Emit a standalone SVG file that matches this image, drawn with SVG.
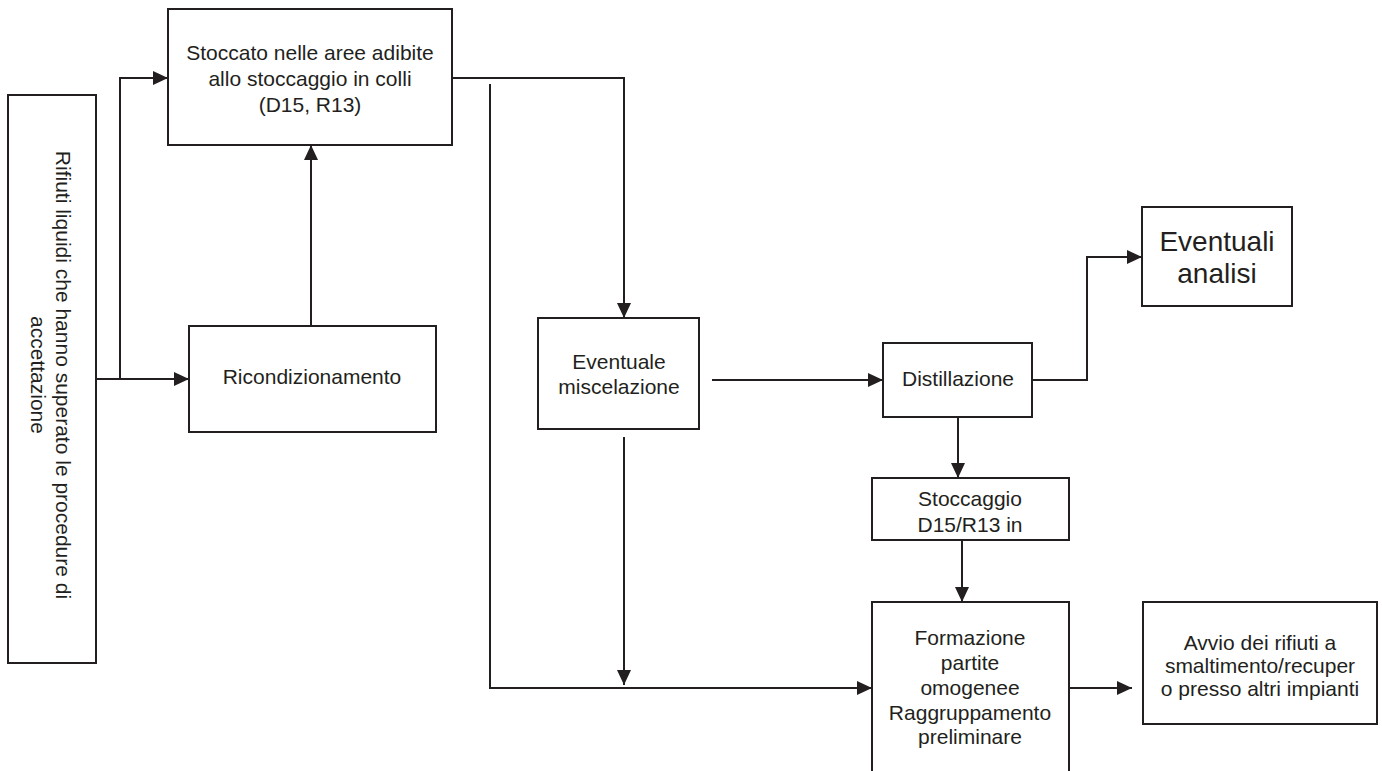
<svg xmlns="http://www.w3.org/2000/svg" width="1382" height="771" viewBox="0 0 1382 771">
  <style>
    .box { fill: #ffffff; stroke: #231f20; stroke-width: 2; }
    .lbl { font-family: "Liberation Sans", Arial, sans-serif; font-size: 21px; fill: #231f20; text-anchor: middle; }
    .big { font-size: 28px; }
    .wire { fill: none; stroke: #231f20; stroke-width: 2; }
    .arrow { marker-end: url(#head); }
  </style>
  <defs>
    <marker id="head" markerUnits="userSpaceOnUse" markerWidth="16" markerHeight="14" refX="15" refY="7" orient="auto">
      <path d="M0,0 L15,7 L0,14 Z" fill="#231f20"/>
    </marker>
  </defs>
  <rect width="1382" height="771" fill="#ffffff"/>

  <!-- connectors -->
  <g id="connectors">
    <!-- incoming waste to reconditioning and to storage -->
    <path class="wire arrow" d="M96,379 H189"/>
    <path class="wire arrow" d="M120,379 V78 H168"/>
    <!-- reconditioning back up to storage -->
    <path class="wire arrow" d="M311,326 V145"/>
    <!-- storage to mixing -->
    <path class="wire arrow" d="M452,78 H624 V318"/>
    <!-- direct path to batch formation -->
    <path class="wire arrow" d="M490,84 V688 H872"/>
    <!-- mixing down to batch formation -->
    <path class="wire arrow" d="M624,437 V685"/>
    <!-- mixing to distillation -->
    <path class="wire arrow" d="M712,380 H883"/>
    <!-- distillation to analysis -->
    <path class="wire arrow" d="M1032,380 H1087 V257 H1142"/>
    <!-- distillation to storage D15/R13 -->
    <path class="wire arrow" d="M958,417 V478"/>
    <!-- storage to batch formation -->
    <path class="wire arrow" d="M962,540 V602"/>
    <!-- batch formation to dispatch -->
    <path class="wire arrow" d="M1069,688 H1132"/>
  </g>

  <!-- nodes -->
  <g id="rifiuti">
    <rect class="box" x="8" y="95" width="88" height="568"/>
    <text class="lbl" transform="translate(56 375) rotate(90)">Rifiuti liquidi che hanno superato le procedure di</text>
    <text class="lbl" transform="translate(31 375) rotate(90)">accettazione</text>
  </g>

  <g id="stoccato">
    <rect class="box" x="168" y="9" width="284" height="136"/>
    <text class="lbl" x="310" y="60">Stoccato nelle aree adibite</text>
    <text class="lbl" x="310" y="86">allo stoccaggio in colli</text>
    <text class="lbl" x="310" y="112">(D15, R13)</text>
  </g>

  <g id="ricondizionamento">
    <rect class="box" x="189" y="326" width="247" height="106"/>
    <text class="lbl" x="312" y="384">Ricondizionamento</text>
  </g>

  <g id="miscelazione">
    <rect class="box" x="538" y="318" width="161" height="111"/>
    <text class="lbl" x="619" y="369">Eventuale</text>
    <text class="lbl" x="619" y="394">miscelazione</text>
  </g>

  <g id="distillazione">
    <rect class="box" x="883" y="343" width="149" height="74"/>
    <text class="lbl" x="958" y="386">Distillazione</text>
  </g>

  <g id="analisi">
    <rect class="box" x="1142" y="207" width="150" height="99"/>
    <text class="lbl big" x="1217" y="251">Eventuali</text>
    <text class="lbl big" x="1217" y="283">analisi</text>
  </g>

  <g id="stoccaggio">
    <rect class="box" x="872" y="478" width="197" height="62"/>
    <text class="lbl" x="970" y="506">Stoccaggio</text>
    <text class="lbl" x="970" y="532">D15/R13 in</text>
  </g>

  <g id="formazione">
    <rect class="box" x="872" y="602" width="197" height="178"/>
    <text class="lbl" x="970" y="645">Formazione</text>
    <text class="lbl" x="970" y="670">partite</text>
    <text class="lbl" x="970" y="695">omogenee</text>
    <text class="lbl" x="970" y="720">Raggruppamento</text>
    <text class="lbl" x="970" y="744">preliminare</text>
  </g>

  <g id="avvio">
    <rect class="box" x="1143" y="602" width="234" height="122"/>
    <text class="lbl" x="1260" y="650">Avvio dei rifiuti a</text>
    <text class="lbl" x="1260" y="673">smaltimento/recuper</text>
    <text class="lbl" x="1260" y="696">o presso altri impianti</text>
  </g>
</svg>
